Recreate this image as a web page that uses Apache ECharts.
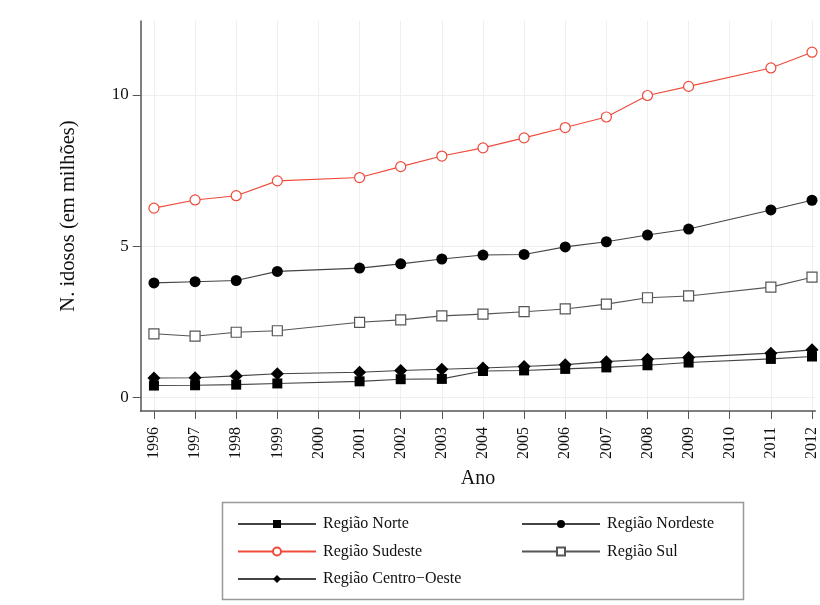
<!DOCTYPE html>
<html>
<head>
<meta charset="utf-8">
<script src="https://cdn.jsdelivr.net/npm/echarts@6/dist/echarts.min.js"></script>
<style>html,body{margin:0;padding:0;background:#fff}#c{width:820px;height:605px}</style>
</head>
<body>
<div id="c"></div>
<script>
const tickYears = [1996,1997,1998,1999,2000,2001,2002,2003,2004,2005,2006,2007,2008,2009,2010,2011,2012];
const dataYears = [1996,1997,1998,1999,2001,2002,2003,2004,2005,2006,2007,2008,2009,2011,2012];
const norte = [0.40,0.41,0.43,0.47,0.54,0.61,0.62,0.88,0.90,0.95,1.00,1.07,1.16,1.28,1.36];
const nordeste = [3.79,3.83,3.87,4.17,4.28,4.42,4.58,4.71,4.73,4.98,5.15,5.37,5.57,6.20,6.52];
const sudeste = [6.26,6.53,6.67,7.16,7.27,7.63,7.98,8.25,8.58,8.92,9.27,9.98,10.28,10.89,11.41];
const sul = [2.11,2.03,2.16,2.21,2.49,2.57,2.70,2.76,2.84,2.93,3.09,3.30,3.36,3.65,3.98];
const centroOeste = [0.65,0.66,0.72,0.79,0.84,0.90,0.94,0.98,1.03,1.09,1.19,1.27,1.33,1.47,1.58];
const yTicks = [0,5,10];

const FONT = 'Liberation Serif';
const pair = arr => dataYears.map((y,i)=>[y, arr[i]]);
function ser(name, arr, symbol, size, color, lineColor, fill) {
  return {
    name, type:'line', data: pair(arr), symbol, symbolSize: size, showSymbol:true,
    lineStyle:{color: lineColor, width:1.1},
    itemStyle:{color: fill, borderColor: color, borderWidth: fill==='#fff'?1.2:0},
    emphasis:{disabled:true}, animation:false, z: 3
  };
}
const chart = echarts.init(document.getElementById('c'), null, {renderer:'canvas'});
chart.setOption({
  backgroundColor:'#fff',
  animation:false,
  textStyle:{fontFamily:FONT},
  grid:{left:140.7, top:21, right:0, bottom:605-411, containLabel:false},
  xAxis:{
    type:'value', min:1995.678, max:2012.08,
    name:'Ano', nameLocation:'middle', nameGap:58,
    nameTextStyle:{fontFamily:FONT, fontSize:20, color:'#111'},
    axisLine:{show:true, onZero:false, lineStyle:{color:'#555', width:1.5}},
    axisTick:{show:true, length:8, customValues:tickYears, lineStyle:{color:'#555'}},
    axisLabel:{customValues:tickYears, rotate:90, margin:16, fontFamily:FONT, fontSize:16, color:'#111', formatter: v=>String(v)},
    splitLine:{show:true, lineStyle:{color:'#eef0f0', width:1}}
  },
  yAxis:{
    type:'value', min:-0.44, max:12.44,
    name:'N. idosos (em milhões)', nameLocation:'middle', nameGap:62,
    nameTextStyle:{fontFamily:FONT, fontSize:20.5, color:'#111'},
    axisLine:{show:true, onZero:false, lineStyle:{color:'#555', width:1.5}},
    axisTick:{show:true, length:8, customValues:yTicks, lineStyle:{color:'#555'}},
    axisLabel:{customValues:yTicks, margin:12, fontFamily:FONT, fontSize:17, color:'#111'},
    splitLine:{show:true, lineStyle:{color:'#eef0f0', width:1}}
  },
  legend:[
    {data:['Região Norte','Região Sudeste','Região Centro−Oeste'], orient:'vertical', left:232, top:511,
     itemWidth:78, itemHeight:10, itemGap:11.5, textStyle:{fontFamily:FONT, fontSize:16, color:'#111', padding:[0,0,0,2]}, selectedMode:false},
    {data:['Região Nordeste','Região Sul'], orient:'vertical', left:516, top:511,
     itemWidth:78, itemHeight:10, itemGap:11.5, textStyle:{fontFamily:FONT, fontSize:16, color:'#111', padding:[0,0,0,2]}, selectedMode:false}
  ],
  graphic:[{type:'rect', shape:{x:222.5, y:502.5, width:521, height:97}, style:{fill:null, stroke:'#999', lineWidth:1.5}, silent:true}],
  series:[
    ser('Região Norte', norte, 'rect', 10, '#000', '#444', '#000'),
    ser('Região Nordeste', nordeste, 'circle', 11, '#000', '#444', '#000'),
    ser('Região Sudeste', sudeste, 'circle', 10, '#ee4b3b', '#ee4b3b', '#fff'),
    ser('Região Sul', sul, 'rect', 10, '#555', '#555', '#fff'),
    ser('Região Centro−Oeste', centroOeste, 'diamond', [13,13], '#000', '#444', '#000')
  ]
});
</script>
</body>
</html>
